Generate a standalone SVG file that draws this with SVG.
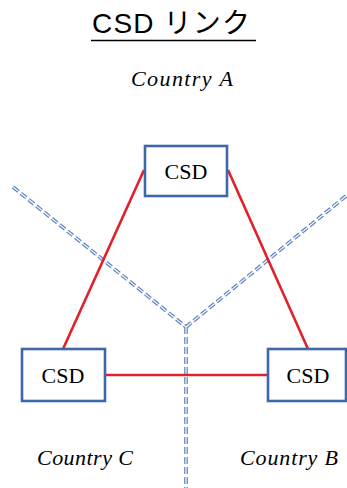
<svg xmlns="http://www.w3.org/2000/svg" width="347" height="488" viewBox="0 0 347 488">
<style>
.box{fill:#fff;stroke:#3e67a8;stroke-width:2.6}
.lbl{font-family:"Liberation Serif","Times New Roman",serif;font-size:22px;fill:#000;text-anchor:middle}
.ctry{font-family:"Liberation Serif","Times New Roman",serif;font-style:italic;font-size:22px;fill:#000}
.red{stroke:#e0202a;stroke-width:2.6;fill:none}
.bd{stroke:#5a82c2;stroke-width:3.6;stroke-dasharray:7 3;fill:none}
.bdw{stroke:#fff;stroke-width:1.2;stroke-dasharray:7 3;fill:none}
</style>
<rect width="347" height="488" fill="#fff"/>
<g id="title">
<text x="92" y="33" font-family="Liberation Sans,Arial,'Noto Sans CJK JP',sans-serif" font-size="28" textLength="158">CSD リンク</text>
<line x1="91" y1="40.5" x2="256" y2="40.5" stroke="#000" stroke-width="1.6"/>
</g>
<g id="borders">
<path class="bd" d="M13,187 L186,327 M346,196 L186,327 M186,327 L186,488"/>
<path class="bdw" d="M13,187 L186,327 M346,196 L186,327 M186,327 L186,488"/>
</g>
<g id="connectors">
<line class="red" x1="144" y1="170" x2="63" y2="349"/>
<line class="red" x1="228" y1="170" x2="308" y2="349"/>
<line class="red" x1="105" y1="375" x2="268" y2="375"/>
</g>
<g id="csd-a">
<rect class="box" x="145" y="146" width="82" height="50"/>
<text class="lbl" x="186" y="179">CSD</text>
</g>
<g id="csd-c">
<rect class="box" x="22" y="349" width="83" height="52"/>
<text class="lbl" x="63" y="383">CSD</text>
</g>
<g id="csd-b">
<rect class="box" x="268" y="349" width="78" height="52"/>
<text class="lbl" x="308" y="383">CSD</text>
</g>
<g id="labels">
<text class="ctry" x="131" y="86" textLength="102">Country A</text>
<text class="ctry" x="37" y="465" textLength="96">Country C</text>
<text class="ctry" x="240" y="465" textLength="98">Country B</text>
</g>
</svg>
